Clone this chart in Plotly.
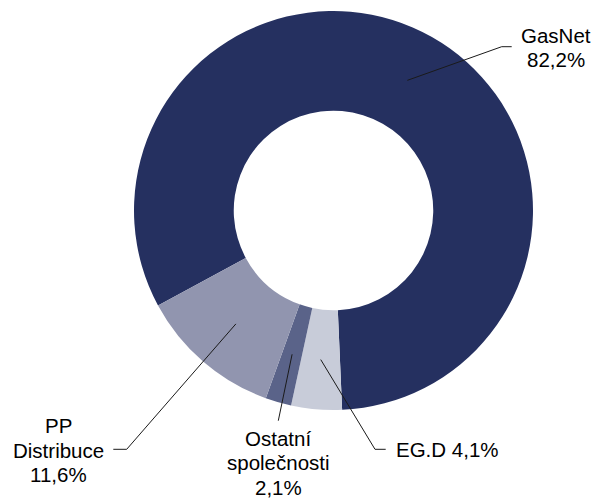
import math
import plotly.graph_objects as go

# ---- data ----
labels = ["GasNet", "EG.D", "Ostatní společnosti", "PP Distribuce"]
values = [82.2, 4.1, 2.1, 11.6]
label_lines = [["GasNet"], ["EG.D"], ["Ostatní", "společnosti"], ["PP", "Distribuce"]]
colors = ["#253060", "#C8CCD9", "#5A6389", "#9195AF"]

# ---- layout constants (pixels) ----
W, H = 596, 499
CX, CY, R = 333.5, 210.5, 199.5
HOLE = 0.5
ROTATION = 241.6
LINE_H = 24.3
FONT = dict(family="Arial, Liberation Sans, sans-serif", size=20.5, color="#000000")

# label anchors (center x, middle y), leader elbow and end points
label_pos = [(556, 47.4), (447, 449), (278, 462.7), (58, 450)]
same_line = [False, True, False, False]
elbows = [(501.7, 46.7), (375.0, 449.3), (278.3, 420.7), (126.7, 449.3)]
ends = [(511.7, 46.7), (385.7, 449.3), None, (113.3, 449.3)]


def fmt(v):
    return f"{v:.1f}".replace(".", ",") + "%"


def px(x):
    return x / W


def py(y):
    return 1 - y / H


fig = go.Figure(go.Pie(
    labels=labels,
    values=values,
    hole=HOLE,
    sort=False,
    direction="clockwise",
    rotation=ROTATION,
    marker=dict(colors=colors, line=dict(width=0)),
    textinfo="none",
    hoverinfo="label+percent",
    showlegend=False,
    domain=dict(x=[px(CX - R), px(CX + R)], y=[py(CY + R), py(CY - R)]),
))

total = sum(values)
cum = 0.0
shapes = []
annotations = []
for i, v in enumerate(values):
    a0 = ROTATION + cum / total * 360
    cum += v
    a1 = ROTATION + cum / total * 360
    mid = math.radians((a0 + a1) / 2)
    rr = R * (1 + HOLE) / 2
    sx = CX + rr * math.sin(mid)
    sy = CY - rr * math.cos(mid)
    ex, ey = elbows[i]
    path = f"M {px(sx)},{py(sy)} L {px(ex)},{py(ey)}"
    if ends[i] is not None:
        path += f" L {px(ends[i][0])},{py(ends[i][1])}"
    shapes.append(dict(type="path", xref="paper", yref="paper", path=path,
                       line=dict(color="#1a1a1a", width=1)))
    lines = list(label_lines[i])
    if same_line[i]:
        lines[-1] = lines[-1] + " " + fmt(v)
    else:
        lines.append(fmt(v))
    lx, ly = label_pos[i]
    n = len(lines)
    for k, t in enumerate(lines):
        yk = ly + (k - (n - 1) / 2) * LINE_H
        annotations.append(dict(
            x=px(lx), y=py(yk), xref="paper", yref="paper",
            text=t, showarrow=False,
            xanchor="center", yanchor="middle", align="center",
            font=FONT,
        ))

fig.update_layout(
    width=W, height=H,
    margin=dict(l=0, r=0, t=0, b=0),
    paper_bgcolor="white", plot_bgcolor="white",
    shapes=shapes, annotations=annotations,
    font=FONT,
)

fig.write_html(
    "out.html",
    config={"displayModeBar": False},
    post_script="document.body.style.margin='0';document.body.style.overflow='hidden';",
)
